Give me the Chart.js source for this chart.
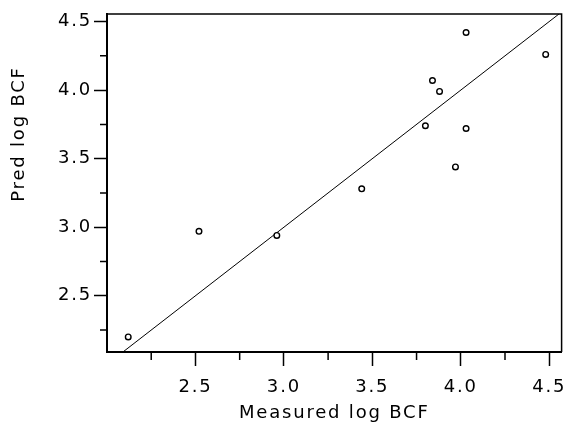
<!DOCTYPE html>
<html lang="en">
<head>
    <meta charset="UTF-8">
    <title>Measured vs Pred log BCF</title>
    <script src="https://cdn.jsdelivr.net/npm/chart.js"></script>
    <style>
        html, body { margin: 0; padding: 0; background: #fff; }
        #wrap { width: 567px; height: 424px; }
    </style>
</head>
<body>
    <div id="wrap"><canvas id="bcfChart"></canvas></div>
    <script>
        // data
        var measured = [4.03, 4.48, 3.84, 3.88, 3.80, 4.03, 3.97, 3.44, 2.52, 2.96, 2.12];
        var predicted = [4.42, 4.26, 4.07, 3.99, 3.74, 3.72, 3.44, 3.28, 2.97, 2.94, 2.20];
        var lineX = [2.09, 4.56];  // y = x reference line
        var lineY = [2.09, 4.56];
        var xTickLabels = ['2.5', '3.0', '3.5', '4.0', '4.5'];
        var yTickLabels = ['2.5', '3.0', '3.5', '4.0', '4.5'];
        var yTitle = 'Pred log BCF';

        var FONT = { family: "'DejaVu Sans', sans-serif", size: 18, weight: 'normal' };

        function isMajor(v) {
            return Math.abs(v * 2 - Math.round(v * 2)) < 1e-6;
        }
        function labelFor(list, v) {
            var s = v.toFixed(1);
            return isMajor(v) && list.indexOf(s) >= 0 ? s : '';
        }

        // letter spacing, like the plotter lettering
        var spacing = {
            id: 'spacing',
            beforeUpdate: function(chart) { chart.ctx.letterSpacing = '1.8px'; },
            beforeDraw: function(chart) { chart.ctx.letterSpacing = '1.8px'; }
        };

        // frame on top/right, short minor ticks, y title (sits above centre in the original)
        var frame = {
            id: 'frame',
            afterDraw: function(chart) {
                var ctx = chart.ctx, a = chart.chartArea;
                var xs = chart.scales.x, ys = chart.scales.y;
                ctx.save();
                ctx.strokeStyle = '#000';
                ctx.lineWidth = 1.5;
                ctx.beginPath();
                ctx.moveTo(a.left, a.top);
                ctx.lineTo(a.right, a.top);
                ctx.lineTo(a.right, a.bottom);
                ctx.stroke();
                ctx.beginPath();
                xs.ticks.forEach(function(t) {
                    if (!isMajor(t.value)) {
                        var px = xs.getPixelForValue(t.value);
                        ctx.moveTo(px, a.bottom);
                        ctx.lineTo(px, a.bottom + 8);
                    }
                });
                ys.ticks.forEach(function(t) {
                    if (!isMajor(t.value)) {
                        var py = ys.getPixelForValue(t.value);
                        ctx.moveTo(a.left, py);
                        ctx.lineTo(a.left - 7, py);
                    }
                });
                ctx.stroke();

                ctx.letterSpacing = '1.8px';
                ctx.font = FONT.weight + ' ' + FONT.size + 'px ' + FONT.family;
                ctx.fillStyle = '#000';
                ctx.textAlign = 'center';
                ctx.textBaseline = 'middle';
                ctx.translate(19, ys.getPixelForValue(3.68));
                ctx.rotate(-Math.PI / 2);
                ctx.fillText(yTitle, 0, 0);
                ctx.restore();
            }
        };

        var ctx = document.getElementById('bcfChart').getContext('2d');
        var chart = new Chart(ctx, {
            type: 'scatter',
            data: {
                datasets: [{
                    label: 'Compounds',
                    data: measured.map(function(m, i) { return { x: m, y: predicted[i] }; }),
                    pointRadius: 2.8,
                    pointBorderWidth: 1.4,
                    pointBorderColor: '#000',
                    pointBackgroundColor: '#fff'
                }, {
                    type: 'line',
                    label: 'y = x',
                    data: lineX.map(function(v, i) { return { x: v, y: lineY[i] }; }),
                    borderColor: '#000',
                    borderWidth: 1,
                    pointRadius: 0,
                    fill: false
                }]
            },
            options: {
                responsive: true,
                maintainAspectRatio: false,
                animation: false,
                layout: { padding: { top: 14, right: 0, left: 0, bottom: 0 } },
                plugins: {
                    legend: { display: false },
                    tooltip: { enabled: false }
                },
                scales: {
                    x: {
                        type: 'linear',
                        min: 2.0,
                        max: 4.57,
                        border: { color: '#000', width: 2 },
                        grid: {
                            drawOnChartArea: false,
                            tickLength: 14,
                            tickWidth: 1.5,
                            tickColor: function(c) { return c.tick && isMajor(c.tick.value) && c.tick.value > 2.1 ? '#000' : 'rgba(0,0,0,0)'; }
                        },
                        ticks: {
                            stepSize: 0.25,
                            includeBounds: false,
                            autoSkip: false,
                            maxRotation: 0,
                            color: '#000',
                            font: FONT,
                            padding: 11,
                            callback: function(v) { return labelFor(xTickLabels, v); }
                        },
                        title: {
                            display: true,
                            text: 'Measured log BCF',
                            color: '#000',
                            font: FONT,
                            padding: { top: 2, bottom: 0 }
                        },
                        afterFit: function(s) { s.height = 72; s.paddingRight = 5; }
                    },
                    y: {
                        type: 'linear',
                        min: 2.09,
                        max: 4.555,
                        border: { color: '#000', width: 2 },
                        grid: {
                            drawOnChartArea: false,
                            tickLength: 13,
                            tickWidth: 1.5,
                            tickColor: function(c) { return c.tick && isMajor(c.tick.value) ? '#000' : 'rgba(0,0,0,0)'; }
                        },
                        ticks: {
                            stepSize: 0.25,
                            includeBounds: false,
                            autoSkip: false,
                            color: '#000',
                            font: FONT,
                            padding: 2,
                            callback: function(v) { return labelFor(yTickLabels, v); }
                        },
                        title: { display: false },
                        afterFit: function(s) { s.width = 107; }
                    }
                }
            },
            plugins: [spacing, frame]
        });
    </script>
</body>
</html>
